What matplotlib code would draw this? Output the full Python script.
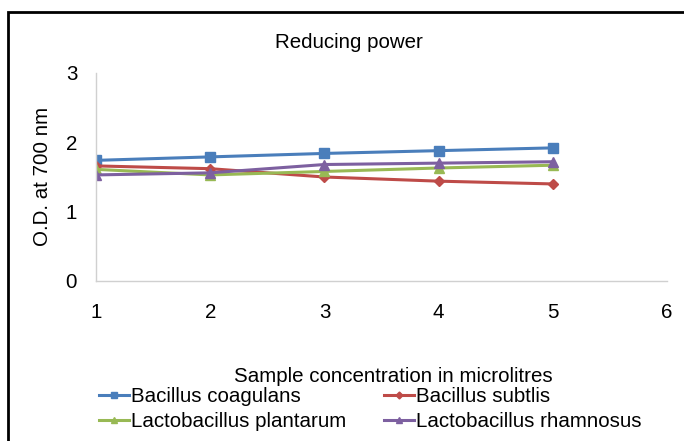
import matplotlib
matplotlib.use("Agg")
import matplotlib.pyplot as plt
from matplotlib.patches import Rectangle

plt.rcParams['font.family'] = ['Liberation Sans', 'DejaVu Sans']

x = [1, 2, 3, 4, 5]
coagulans = [1.74, 1.79, 1.84, 1.88, 1.92]
subtilis = [1.66, 1.62, 1.50, 1.44, 1.40]
plantarum = [1.61, 1.53, 1.58, 1.63, 1.67]
rhamnosus = [1.53, 1.56, 1.68, 1.70, 1.72]

names = ["Bacillus coagulans", "Bacillus subtlis",
         "Lactobacillus plantarum", "Lactobacillus rhamnosus"]
colors = ["#4A7EBB", "#BE4B48", "#98B954", "#7D60A0"]
markers = ["s", "D", "^", "^"]
msizes = [6.5, 5, 7, 7]

FS = 14.8
W, H = 684, 441
fig = plt.figure(figsize=(W / 100, H / 100), dpi=100)
ax = fig.add_axes([96 / W, 1 - 281 / H, (667 - 96) / W, (281 - 73) / H])

series = [coagulans, subtilis, plantarum, rhamnosus]
handles = []
for ys, c, m, ms, n in zip(series, colors, markers, msizes, names):
    ln, = ax.plot(x, ys, color=c, marker=m, markersize=ms, linewidth=2.2,
                  markeredgecolor=c, label=n)
    handles.append(ln)

ax.set_xlim(1, 6)
ax.set_ylim(0, 3)
ax.set_xticks([1, 2, 3, 4, 5, 6])
ax.set_yticks([0, 1, 2, 3])
ax.tick_params(length=0, labelsize=FS, colors='black')
ax.tick_params(axis='x', pad=16)
ax.tick_params(axis='y', pad=13.5)
for s in ['top', 'right']:
    ax.spines[s].set_visible(False)
for s in ['left', 'bottom']:
    ax.spines[s].set_color('#D0D0D0')
    ax.spines[s].set_linewidth(1.0)

fig.text(43 / W, 1 - 176 / H, "O.D. at 700 nm", rotation=90,
         ha='center', va='center', fontsize=FS)
fig.text(349 / W, 1 - 42 / H, "Reducing power", ha='center', va='center', fontsize=FS)
fig.text(393 / W, 1 - 376 / H, "Sample concentration in microlitres",
         ha='center', va='center', fontsize=FS)

order = [0, 2, 1, 3]
leg = fig.legend([handles[i] for i in order], [names[i] for i in order],
                 ncol=2, loc='upper left', bbox_to_anchor=(99 / W, 1 - 387 / H),
                 frameon=False, fontsize=FS, handlelength=1.45, handletextpad=0.1,
                 columnspacing=1.85, labelspacing=0.3, borderpad=0.0,
                 borderaxespad=0.0, markerscale=0.7)

fig.add_artist(Rectangle((8 / W, -0.1), 1.2, 1 - 12 / H + 0.1,
                         transform=fig.transFigure, fill=False,
                         edgecolor='black', linewidth=2.0))

fig.savefig("out.png", dpi=100)
